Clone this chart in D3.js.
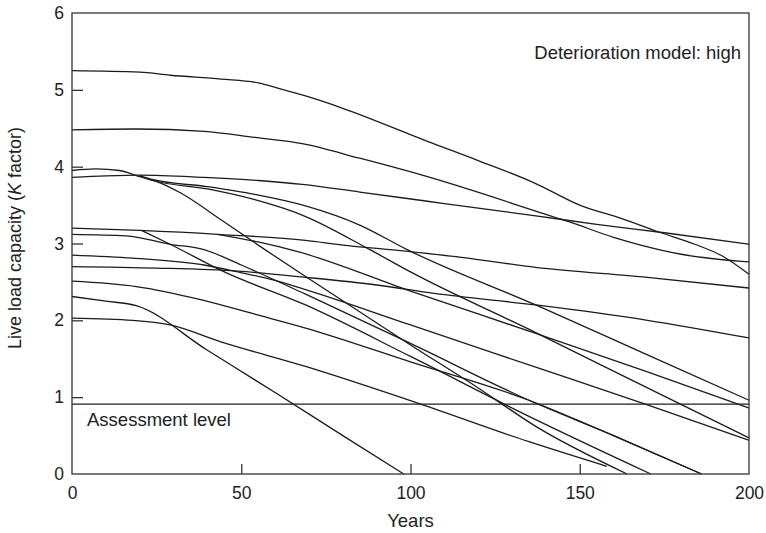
<!DOCTYPE html>
<html>
<head>
<meta charset="utf-8">
<script src="https://cdn.jsdelivr.net/npm/d3@7"></script>
<style>
  html, body { margin: 0; padding: 0; background: #fff; }
  svg { display: block; font-family: "Liberation Sans", Arial, Helvetica, sans-serif; }
</style>
</head>
<body>
<svg id="chart" width="766" height="533"></svg>
<script>
// Axis ticks
const xTicks = [0, 50, 100, 150, 200];
const yTicks = [0, 1, 2, 3, 4, 5, 6];

// Assessment threshold for the K factor
const assessmentLevel = 0.91;

// Live load capacity over time, one array per bridge: [year, K factor]
const bridge01 = [[0,5.25],[20,5.23],[29,5.19],[44,5.14],[55,5.09],[61,5.02],[69,4.92],[80,4.76],[105,4.33],[120,4.08],[137,3.78],[150,3.50],[162,3.33],[174,3.14],[184,2.99],[192,2.84],[200,2.60]];
const bridge02 = [[0,4.48],[19,4.49],[39,4.46],[54,4.38],[68,4.30],[85,4.11],[105,3.87],[124,3.61],[137,3.42],[147,3.28],[160,3.08],[168,2.98],[180,2.86],[200,2.76]];
const bridge03 = [[0,3.86],[10,3.88],[20,3.89],[39,3.86],[55,3.82],[68,3.77],[85,3.67],[105,3.55],[120,3.46],[137,3.36],[155,3.25],[175,3.14],[200,2.99]];
const bridge04 = [[0,3.95],[7,3.97],[14,3.95],[20,3.87],[26,3.79],[32,3.66],[44,3.31],[56,2.95],[69,2.57],[100,1.68],[120,1.12],[137,0.62],[164,0]];
const bridge05 = [[20,3.88],[24,3.83],[40,3.74],[54,3.64],[69,3.49],[85,3.24],[99,2.92],[137,2.20],[170,1.55],[200,0.96]];
const bridge06 = [[20,3.88],[24,3.82],[40,3.71],[54,3.57],[68,3.37],[88,2.92],[100,2.63],[137,1.84],[170,1.12],[200,0.47]];
const bridge07 = [[0,3.20],[20,3.17],[43,3.12],[69,3.04],[80,2.98],[94,2.92],[115,2.82],[137,2.69],[170,2.56],[200,2.42]];
const bridge08 = [[0,3.12],[16,3.10],[29,2.99],[39,2.92],[50,2.72],[69,2.34],[100,1.70],[135,0.96],[160,0.50],[186,0]];
const bridge09 = [[20.6,3.17],[29,2.99],[45,2.63],[69,2.20],[100,1.53],[135,0.75],[171,0]];
const bridge10 = [[43,3.12],[55,3.02],[67,2.89],[100,2.38],[137,1.83],[170,1.33],[200,0.86]];
const bridge11 = [[0,2.85],[18,2.81],[39,2.72],[49,2.63],[60,2.52],[69,2.40],[100,1.94],[135,1.42],[170,0.90],[200,0.44]];
const bridge12 = [[0,2.70],[25,2.68],[49,2.64],[69,2.56],[90,2.46],[107,2.35],[137,2.20],[170,2.00],[200,1.77]];
const bridge13 = [[0,2.51],[19,2.44],[38,2.27],[54,2.08],[69,1.90],[100,1.46],[135,0.96],[160,0.50],[186,0]];
const bridge14 = [[0,2.31],[10,2.25],[19,2.19],[40,1.61],[60,1.06],[80,0.50],[98,0]];
const bridge15 = [[0,2.03],[18,2.00],[29,1.94],[44,1.72],[69,1.40],[103,0.91],[135,0.42],[158,0.10]];

const bridges = [bridge01, bridge02, bridge03, bridge04, bridge05, bridge06, bridge07, bridge08,
                 bridge09, bridge10, bridge11, bridge12, bridge13, bridge14, bridge15];

const svg = d3.select("#chart");
const plot = { left: 72, right: 749, top: 13, bottom: 474 };

const x = d3.scaleLinear().domain([0, 200]).range([plot.left, plot.right]);
const y = d3.scaleLinear().domain([0, 6]).range([plot.bottom, plot.top]);

const ink = "#1c1c1c";
const frame = "#333";
const tickFont = 17.5;
const labelFont = 18.5;

// Capacity curves
const line = d3.line()
  .x(d => x(d[0]))
  .y(d => y(d[1]))
  .curve(d3.curveMonotoneX);

svg.append("g")
  .selectAll("path")
  .data(bridges)
  .join("path")
  .attr("d", line)
  .attr("fill", "none")
  .attr("stroke", ink)
  .attr("stroke-width", 1.3)
  .attr("stroke-linejoin", "round");

// Assessment level
svg.append("line")
  .attr("x1", x(0)).attr("x2", x(200))
  .attr("y1", y(assessmentLevel)).attr("y2", y(assessmentLevel))
  .attr("stroke", ink).attr("stroke-width", 1.3);

svg.append("text")
  .attr("x", x(0) + 15)
  .attr("y", y(assessmentLevel) + 22)
  .attr("font-size", labelFont)
  .attr("fill", "#222")
  .text("Assessment level");

// Frame
svg.append("rect")
  .attr("x", plot.left).attr("y", plot.top)
  .attr("width", plot.right - plot.left).attr("height", plot.bottom - plot.top)
  .attr("fill", "none").attr("stroke", frame).attr("stroke-width", 1.3);

// Axes with inward ticks
const yAxis = svg.append("g")
  .attr("transform", `translate(${plot.left},0)`)
  .call(d3.axisLeft(y).tickValues(yTicks).tickFormat(d3.format("d"))
    .tickSizeInner(-11).tickSizeOuter(0).tickPadding(8));

const xAxis = svg.append("g")
  .attr("transform", `translate(0,${plot.bottom})`)
  .call(d3.axisBottom(x).tickValues(xTicks).tickFormat(d3.format("d"))
    .tickSizeInner(-10).tickSizeOuter(0).tickPadding(13));

[yAxis, xAxis].forEach(g => {
  g.select(".domain").remove();
  g.selectAll(".tick line").attr("stroke", frame).attr("stroke-width", 1.3);
  g.selectAll(".tick text")
    .attr("font-size", tickFont)
    .attr("font-family", "Liberation Sans, Arial, sans-serif")
    .attr("fill", "#222");
});
// ticks at the frame corners are not drawn
yAxis.selectAll(".tick").filter(d => d === 0 || d === 6).select("line").remove();
xAxis.selectAll(".tick").filter(d => d === 0 || d === 200).select("line").remove();

// Axis titles
svg.append("text")
  .attr("x", (plot.left + plot.right) / 2)
  .attr("y", 527)
  .attr("text-anchor", "middle")
  .attr("font-size", labelFont)
  .attr("fill", "#222")
  .text("Years");

const yTitle = svg.append("text")
  .attr("transform", "translate(21,238) rotate(-90)")
  .attr("text-anchor", "middle")
  .attr("font-size", 18)
  .attr("fill", "#222");
yTitle.append("tspan").text("Live load capacity (");
yTitle.append("tspan").attr("font-style", "italic").text("K");
yTitle.append("tspan").text(" factor)");

// Model note
svg.append("text")
  .attr("x", 741)
  .attr("y", 59)
  .attr("text-anchor", "end")
  .attr("font-size", labelFont)
  .attr("fill", "#222")
  .text("Deterioration model: high");
</script>
</body>
</html>
